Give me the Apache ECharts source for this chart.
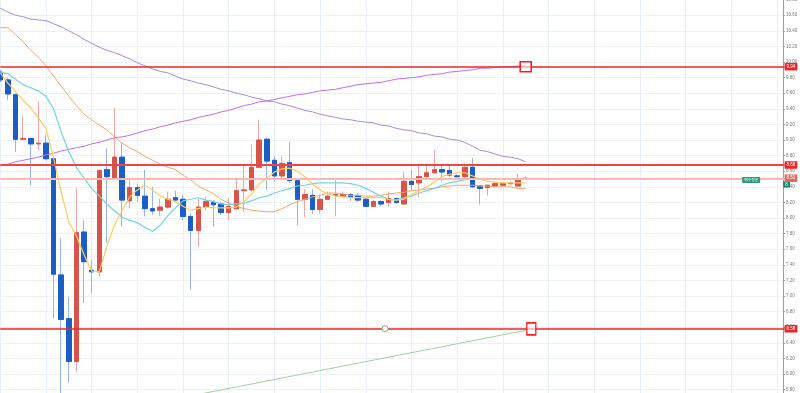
<!DOCTYPE html>
<html><head><meta charset="utf-8">
<script src="https://cdn.jsdelivr.net/npm/echarts@6/dist/echarts.min.js"></script>
<style>html,body{margin:0;padding:0;background:#fff;}#c{width:800px;height:393px;}</style>
</head><body><div id="c"></div>
<script>
// ---- data ----
const slotCount = 104; // candle slots on the x axis (70 filled, rest empty space)
const opens  = [9.87,9.77,9.58,9.01,9.02,8.95,8.96,8.76,7.27,6.71,6.16,7.82,7.33,7.31,8.62,8.52,8.78,8.22,8.39,8.28,8.12,8.10,8.14,8.26,8.24,8.02,7.84,8.14,8.20,8.18,8.07,8.12,8.35,8.36,8.65,9.01,8.74,8.54,8.71,8.48,8.24,8.29,8.11,8.24,8.29,8.28,8.30,8.29,8.24,8.15,8.21,8.20,8.25,8.18,8.47,8.45,8.53,8.58,8.62,8.61,8.54,8.53,8.65,8.41,8.39,8.41,8.42,8.44,8.41,8.50];
const closes = [9.77,9.59,9.01,9.02,8.95,8.96,8.76,7.28,6.70,6.16,7.81,7.44,7.31,8.61,8.53,8.78,8.23,8.39,8.29,8.12,8.09,8.14,8.24,8.23,8.02,7.84,8.14,8.21,8.17,8.07,8.15,8.35,8.36,8.65,9.00,8.73,8.54,8.70,8.48,8.24,8.30,8.11,8.24,8.28,8.30,8.30,8.27,8.23,8.15,8.21,8.18,8.25,8.20,8.47,8.43,8.53,8.58,8.62,8.59,8.55,8.53,8.65,8.40,8.38,8.42,8.44,8.44,8.45,8.49,8.51];
const lows   = [9.74,9.51,8.85,9.00,8.42,8.87,8.74,6.71,5.67,5.89,6.03,6.91,7.04,7.25,7.68,8.51,7.89,8.12,8.21,8.02,8.04,8.02,8.12,8.21,7.97,7.08,7.63,8.10,7.89,8.04,7.97,8.10,8.08,8.34,8.64,8.36,8.47,8.51,8.45,7.91,8.01,8.05,8.06,8.23,8.02,8.27,8.22,8.21,8.14,8.14,8.15,8.15,8.18,8.17,8.36,8.27,8.50,8.57,8.47,8.53,8.51,8.51,8.38,8.17,8.29,8.40,8.41,8.43,8.40,8.49];
const highs  = [9.90,9.80,9.60,9.30,9.03,9.49,9.06,8.77,7.74,6.99,8.38,7.97,7.46,8.62,8.89,9.41,8.96,8.49,8.44,8.62,8.40,8.25,8.34,8.35,8.30,8.06,8.25,8.27,8.23,8.21,8.25,8.49,8.68,8.94,9.26,9.03,8.79,8.79,8.97,8.51,8.37,8.37,8.30,8.34,8.49,8.34,8.32,8.32,8.27,8.23,8.23,8.34,8.26,8.59,8.62,8.68,8.68,8.87,8.68,8.68,8.56,8.70,8.77,8.42,8.43,8.46,8.46,8.47,8.57,8.53];

const maYellow = [9.86,9.73,9.62,9.51,9.41,9.28,9.15,8.77,8.33,7.95,7.77,7.53,7.32,7.31,7.64,7.91,8.10,8.27,8.36,8.42,8.36,8.28,8.24,8.21,8.15,8.10,8.12,8.14,8.13,8.13,8.13,8.14,8.21,8.31,8.44,8.51,8.59,8.63,8.64,8.60,8.53,8.44,8.36,8.31,8.28,8.27,8.26,8.26,8.26,8.26,8.26,8.24,8.23,8.24,8.30,8.35,8.40,8.46,8.53,8.56,8.58,8.58,8.54,8.50,8.47,8.46,8.45,8.45,8.45,8.45];
const maCyan   = [9.87,9.85,9.78,9.71,9.67,9.63,9.56,9.40,9.10,8.85,8.65,8.51,8.38,8.28,8.18,8.09,8.01,7.97,7.94,7.88,7.83,7.91,8.03,8.13,8.22,8.24,8.26,8.23,8.21,8.18,8.17,8.18,8.19,8.22,8.26,8.28,8.32,8.35,8.38,8.41,8.42,8.44,8.45,8.45,8.45,8.45,8.44,8.42,8.38,8.33,8.28,8.24,8.23,8.26,8.28,8.32,8.35,8.38,8.42,8.45,8.47,8.49,8.50,8.50,8.50,8.50,8.50,8.50,8.50,8.50];
const maOrange = [10.44,10.44,10.35,10.26,10.15,10.06,9.95,9.82,9.69,9.56,9.44,9.33,9.26,9.19,9.13,9.04,8.96,8.90,8.85,8.79,8.74,8.69,8.65,8.62,8.55,8.49,8.41,8.36,8.31,8.24,8.19,8.15,8.12,8.10,8.09,8.08,8.08,8.12,8.17,8.21,8.24,8.27,8.29,8.32,8.32,8.31,8.29,8.29,8.28,8.28,8.29,8.31,8.32,8.33,8.35,8.36,8.37,8.38,8.40,8.41,8.42,8.42,8.42,8.41,8.41,8.40,8.40,8.40,8.38,8.38];
const maPurple = [10.69,10.64,10.60,10.58,10.55,10.54,10.53,10.49,10.45,10.40,10.35,10.29,10.24,10.19,10.15,10.12,10.08,10.04,9.99,9.95,9.91,9.88,9.86,9.82,9.78,9.76,9.73,9.71,9.68,9.65,9.63,9.60,9.58,9.55,9.53,9.50,9.49,9.46,9.44,9.41,9.38,9.36,9.33,9.31,9.29,9.27,9.26,9.24,9.23,9.22,9.19,9.18,9.15,9.13,9.12,9.09,9.08,9.05,9.04,9.01,9.00,8.97,8.92,8.87,8.85,8.82,8.79,8.78,8.76,8.72];
const trendViolet = [8.67,8.69,8.72,8.74,8.76,8.78,8.81,8.83,8.86,8.88,8.90,8.92,8.95,8.97,9.00,9.03,9.04,9.06,9.09,9.12,9.14,9.17,9.19,9.22,9.24,9.26,9.29,9.31,9.33,9.36,9.38,9.41,9.44,9.46,9.49,9.50,9.52,9.54,9.56,9.58,9.59,9.61,9.63,9.64,9.65,9.67,9.69,9.71,9.72,9.73,9.74,9.76,9.78,9.79,9.80,9.81,9.83,9.84,9.85,9.87,9.88,9.89,9.90,9.92,9.92,9.93,9.94,9.94,9.95,9.95];
const trendGreen = [[24, 5.70], [69, 6.56]];

const levelLines = [9.94, 8.68, 6.58];
const currentPrice = 8.51;
const buyAverage = 8.50;
const buyLabelText = '매수평균';
const buyAxisText = '8';

// ---- build ----
const categories = Array.from({length: slotCount}, (_, i) => String(i));
const candleData = opens.map((o, i) => [o, closes[i], lows[i], highs[i]]);
const bodyData = opens.map((o, i) => [o, closes[i], Math.min(o, closes[i]), Math.max(o, closes[i])]);

const RED = '#d6544a', BLUE = '#1b5fc6', LINE_RED = '#ee2525';
const FONT = 'Liberation Sans';
const tagLabel = (bg) => ({
  show: true, position: 'end', distance: 0, color: '#fff', backgroundColor: bg,
  fontSize: 4.5, fontFamily: FONT, padding: [1.5, 2, 1, 2],
  formatter: p => Number(p.value).toFixed(2)
});

const option = {
  animation: false,
  backgroundColor: '#fff',
  grid: { left: 0.3, right: 15.4, top: -16, bottom: -12.2, containLabel: false, outerBoundsMode: 'none' },
  xAxis: {
    type: 'category', data: categories, boundaryGap: false,
    axisLine: { show: false }, axisTick: { show: false }, axisLabel: { show: false },
    splitLine: { show: true, interval: 5, lineStyle: { color: '#e9eff6', width: 1 } }
  },
  yAxis: {
    type: 'value', position: 'right', min: 5.6, max: 11.0, interval: 0.2, offset: -1.6,
    axisLine: { show: true, lineStyle: { color: '#9c9c9c', width: 1 } },
    axisTick: { show: true, length: 2, lineStyle: { color: '#a0a0a0' } },
    axisLabel: { show: true, fontSize: 4.5, fontFamily: FONT, color: '#777', margin: 3,
      formatter: v => v.toFixed(2) },
    splitLine: { show: true, lineStyle: { color: '#edf1f5', width: 1 } }
  },
  series: [
    { name: 'wick', type: 'candlestick', data: candleData, barWidth: 5, silent: true,
      itemStyle: { color: RED, color0: BLUE, borderColor: '#f1a5a0', borderColor0: '#98b4e4', borderWidth: 1 } },
    { name: 'maOrange', type: 'line', data: maOrange, symbol: 'none', smooth: false,
      lineStyle: { color: '#f9a468', width: 1 } },
    { name: 'maPurple', type: 'line', data: maPurple, symbol: 'none',
      lineStyle: { color: '#a58be0', width: 1 } },
    { name: 'trendViolet', type: 'line', data: trendViolet, symbol: 'none',
      lineStyle: { color: '#c56cf0', width: 1 } },
    { name: 'trendGreen', type: 'line', data: trendGreen, symbol: 'none',
      lineStyle: { color: '#9ad69a', width: 1 } },
    { name: 'maCyan', type: 'line', data: maCyan, symbol: 'none',
      lineStyle: { color: '#74d3e3', width: 1.2 } },
    { name: 'maYellow', type: 'line', data: maYellow, symbol: 'none',
      lineStyle: { color: '#ffcb63', width: 1.2 } },
    { name: 'body', type: 'candlestick', data: bodyData, barWidth: 5, silent: true,
      itemStyle: { color: RED, color0: BLUE, borderColor: RED, borderColor0: BLUE, borderWidth: 1 },
      markLine: {
        silent: true, symbol: ['none', 'none'], precision: 2,
        data: [
          { yAxis: currentPrice, lineStyle: { color: '#f2b3ad', width: 1, type: 'solid' }, label: tagLabel('#db6a62') },
          { yAxis: buyAverage, lineStyle: { color: '#b3dfcb', width: 1, type: 'solid' }, label: { show: false } },
          { yAxis: levelLines[0], lineStyle: { color: LINE_RED, width: 1.5, type: 'solid' }, label: tagLabel(LINE_RED) },
          { yAxis: levelLines[1], lineStyle: { color: '#f24444', width: 2, type: 'solid' }, label: tagLabel(LINE_RED) },
          { yAxis: levelLines[2], lineStyle: { color: LINE_RED, width: 1.5, type: 'solid' }, label: tagLabel(LINE_RED) }
        ]
      },
      markPoint: {
        silent: true,
        data: [
          { coord: [69, levelLines[0]], symbol: 'rect', symbolSize: [11, 10],
            itemStyle: { color: 'rgba(255,255,255,0.6)', borderColor: LINE_RED, borderWidth: 1.5 }, label: { show: false } },
          { coord: [70, levelLines[2]], symbol: 'rect', symbolSize: [9, 12], symbolOffset: [-2, 0],
            itemStyle: { color: 'rgba(255,255,255,0.6)', borderColor: LINE_RED, borderWidth: 1.5 }, label: { show: false } },
          { coord: [50, levelLines[2]], symbol: 'circle', symbolSize: 6, symbolOffset: [4, 0],
            itemStyle: { color: '#fff', borderColor: '#9a9a9a', borderWidth: 1 }, label: { show: false } },
          { coord: [99, 8.487], symbol: 'rect', symbolSize: [18, 6], symbolOffset: [-3, 0],
            itemStyle: { color: '#2f9a78' },
            label: { show: true, position: 'inside', formatter: buyLabelText, color: '#fff', fontSize: 3.8,
              fontFamily: 'Noto Sans CJK KR' } },
          { coord: [103, 8.43], symbol: 'rect', symbolSize: [7, 6], symbolOffset: [2, 0],
            itemStyle: { color: '#1c8a68' },
            label: { show: true, position: 'inside', formatter: buyAxisText, color: '#fff', fontSize: 4.5,
              fontFamily: FONT } }
        ]
      }
    }
  ]
};
const chart = echarts.init(document.getElementById('c'), null, { renderer: 'canvas' });
chart.setOption(option);
</script>
</body></html>
